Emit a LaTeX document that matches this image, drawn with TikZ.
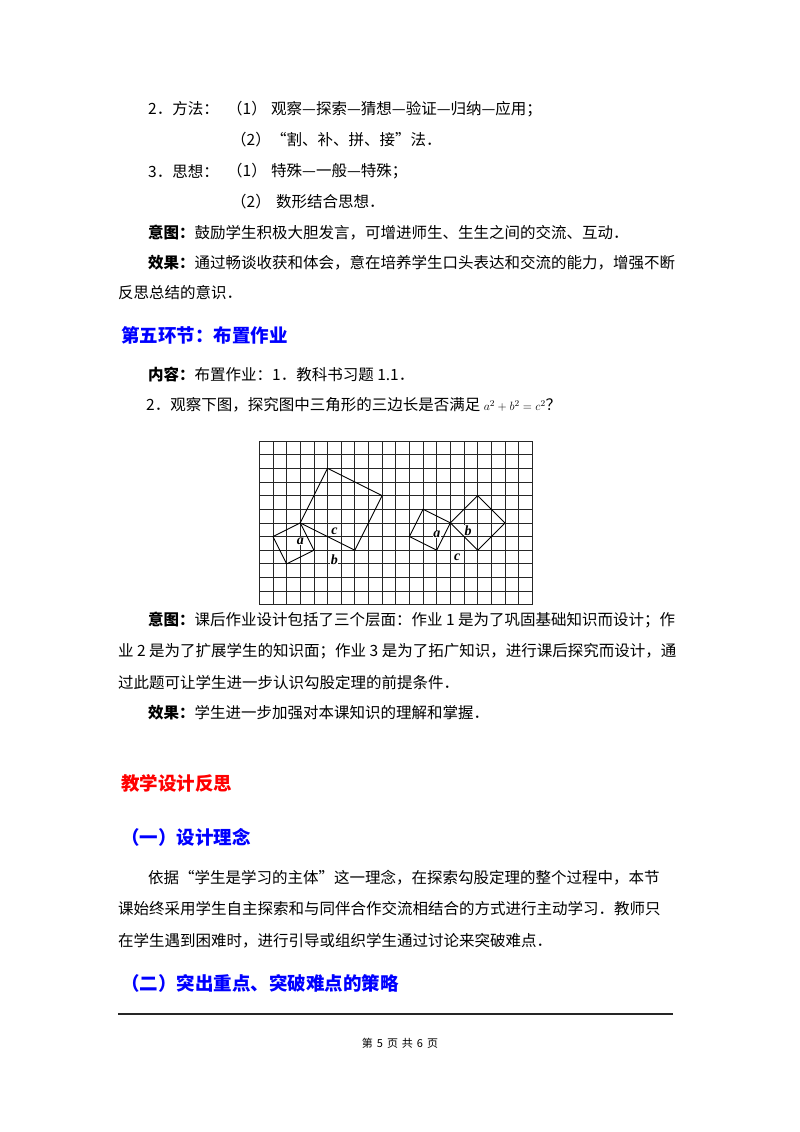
\documentclass[tikz,border=0pt]{standalone}
\usepackage{fontspec}
\setmainfont{Liberation Serif}
\newfontfamily\cjk{Noto Sans CJK SC}
\begin{document}
\begin{tikzpicture}[x=1pt,y=-1pt,
  t/.style={anchor=west,inner sep=0pt,font=\cjk\fontsize{15.5}{16}\selectfont},
  hb/.style={t,text=blue,font=\cjk\bfseries\fontsize{18.5}{19}\selectfont},
  hr/.style={t,text=red,font=\cjk\bfseries\fontsize{18.5}{19}\selectfont},
  gl/.style={line width=0.8pt,black!85},
  sq/.style={line width=0.9pt},
  lab/.style={fill=white,inner sep=0.5pt,font=\fontsize{14}{14}\selectfont\bfseries\itshape}]
\useasboundingbox (0,0) rectangle (800,1132);
\fill[white] (0,0) rectangle (800,1132);
\newcommand{\bb}[1]{{\bfseries #1}}
\node[t] (l1a) at (148,109) {2．方法：};
\node[t] (l1b) at (227,109) {（1）};
\node[t] (l1c) at (271,109) {观察—探索—猜想—验证—归纳—应用；};
\node[t] (l2b) at (231,140) {（2）};
\node[t] (l2c) at (271,140) {“割、补、拼、接”法．};
\node[t] (l3a) at (148,171) {3．思想：};
\node[t] (l3b) at (227,171) {（1）};
\node[t] (l3c) at (271,171) {特殊—一般—特殊；};
\node[t] (l4b) at (231,202) {（2）};
\node[t] (l4c) at (276,202) {数形结合思想．};
\node[t] (l5) at (148,233) {\bb{意图：}鼓励学生积极大胆发言，可增进师生、生生之间的交流、互动．};
\node[t] (l6) at (148,263) {\bb{效果：}通过畅谈收获和体会，意在培养学生口头表达和交流的能力，增强不断};
\node[t] (l7) at (118,293) {反思总结的意识．};
\node[hb] (h5) at (121,335) {第五环节：布置作业};
\node[t] (l8) at (148,375) {\bb{内容：}布置作业：1．教科书习题 1.1．};
\node[t] (l9) at (146,405) {2．观察下图，探究图中三角形的三边长是否满足 {\rmfamily\fontsize{13}{13}\selectfont$a^2+b^2=c^2$}？};
% grid
\begin{scope}[shift={(259.3,441)},x=13.65pt,y=-13.65pt]
\foreach \i in {0,...,20} \draw[gl] (\i,0) -- (\i,12);
\foreach \j in {0,...,12} \draw[gl] (0,\j) -- (20,\j);
\draw[sq] (3,6) -- (5,2) -- (9,4) -- (7,8) -- cycle;
\draw[sq] (3,6) -- (1,7) -- (2,9) -- (4,8) -- cycle;
\draw[sq] (14,6) -- (12,5) -- (11,7) -- (13,8) -- cycle;
\draw[sq] (14,6) -- (16,4) -- (18,6) -- (16,8) -- cycle;
\node[lab] (la1) at (3,7.35) {a};
\node[lab] (lc1) at (5.5,6.6) {c};
\node[lab] (lb1) at (5.5,8.7) {b};
\node[lab] (la2) at (13,6.85) {a};
\node[lab] (lb2) at (15.3,6.55) {b};
\node[lab] (lc2) at (14.5,8.55) {c};
\end{scope}
\node[t] (m1) at (148,620) {\bb{意图：}课后作业设计包括了三个层面：作业 1 是为了巩固基础知识而设计；作};
\node[t] (m2) at (118,651) {业 2 是为了扩展学生的知识面；作业 3 是为了拓广知识，进行课后探究而设计，通};
\node[t] (m3) at (118,683) {过此题可让学生进一步认识勾股定理的前提条件．};
\node[t] (m4) at (148,713) {\bb{效果：}学生进一步加强对本课知识的理解和掌握．};
\node[hr] (h6) at (121,783) {教学设计反思};
\node[hb] (h7) at (121,837) {（一）设计理念};
\node[t] (p1) at (148,878) {依据“学生是学习的主体”这一理念，在探索勾股定理的整个过程中，本节};
\node[t] (p2) at (118,909) {课始终采用学生自主探索和与同伴合作交流相结合的方式进行主动学习．教师只};
\node[t] (p3) at (118,941) {在学生遇到困难时，进行引导或组织学生通过讨论来突破难点．};
\node[hb] (h8) at (121,983) {（二）突出重点、突破难点的策略};
\coordinate (r1) at (118,1014);
\coordinate (r2) at (673,1014);
\draw[line width=1.5pt,black!85] (r1) -- (r2);
\node[inner sep=0pt,font=\cjk\fontsize{11}{11}\selectfont] (ft) at (400,1043) {第\hspace{4pt}5\hspace{4pt}页\hspace{4pt}共\hspace{4pt}6\hspace{4pt}页};
\end{tikzpicture}
\end{document}
